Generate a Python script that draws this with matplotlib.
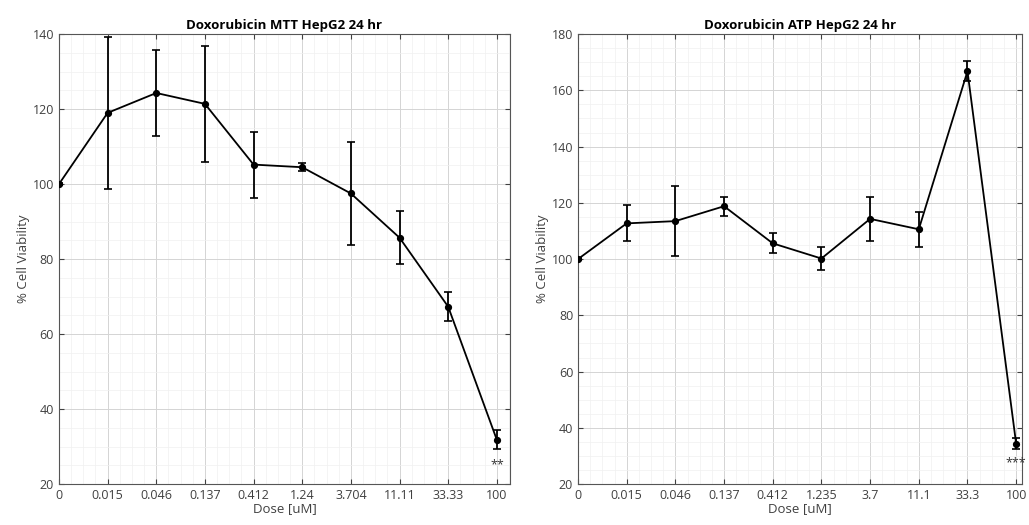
import numpy as np
import matplotlib
matplotlib.use("Agg")
import matplotlib.pyplot as plt
from matplotlib.ticker import MultipleLocator

plt.rcParams['font.family'] = ['Open Sans', 'DejaVu Sans']

# MTT assay
mtt_doses = ["0", "0.015", "0.046", "0.137", "0.412", "1.24", "3.704", "11.11", "33.33", "100"]
mtt_mean = [100, 119, 124.3, 121.4, 105.2, 104.5, 97.5, 85.7, 67.3, 31.8]
mtt_err = [0.3, 20.3, 11.5, 15.5, 8.8, 1.0, 13.8, 7.0, 3.8, 2.5]
mtt_sig = "**"

# ATP assay
atp_doses = ["0", "0.015", "0.046", "0.137", "0.412", "1.235", "3.7", "11.1", "33.3", "100"]
atp_mean = [100, 112.7, 113.5, 118.8, 105.6, 100.2, 114.3, 110.6, 166.8, 34.3]
atp_err = [0.3, 6.4, 12.4, 3.4, 3.6, 4.0, 7.7, 6.3, 3.6, 2.0]
atp_sig = "***"

fig = plt.figure(figsize=(10.29, 5.25), dpi=100)
ax1 = fig.add_axes([0.0573, 0.078, 0.4383, 0.857])
ax2 = fig.add_axes([0.5617, 0.078, 0.4315, 0.857])

def panel(ax, doses, mean, err, sig, title, ylim, xmax):
    x = np.arange(len(doses))
    ax.errorbar(x, mean, yerr=err, color="black", lw=1.3, marker="o", ms=4.2,
                capsize=3, elinewidth=1.3, capthick=1.2, zorder=3)
    ax.text(x[-1], mean[-1] - err[-1] - 2.5, sig, ha="center", va="top",
            fontsize=9, color="#333333")
    ax.set_xlim(0, xmax)
    ax.set_ylim(*ylim)
    ax.set_xticks(x)
    ax.set_xticklabels(doses)
    ax.yaxis.set_major_locator(MultipleLocator(20))
    ax.yaxis.set_minor_locator(MultipleLocator(5))
    ax.xaxis.set_minor_locator(MultipleLocator(0.25))
    ax.grid(True, which="major", color="#d4d4d4", lw=0.7)
    ax.grid(True, which="minor", color="#f0f0f0", lw=0.5)
    ax.set_axisbelow(True)
    ax.tick_params(which="both", direction="in", labelsize=9, colors="#404040",
                   top=True, right=True)
    ax.tick_params(which="minor", length=0)
    for s in ax.spines.values():
        s.set_color("#555555")
        s.set_linewidth(0.8)
    ax.set_title(title, fontsize=9.5, fontweight="bold", pad=4)
    ax.set_xlabel("Dose [uM]", fontsize=9.5, color="#404040", labelpad=0)
    ax.set_ylabel("% Cell Viability", fontsize=9.5, color="#404040", labelpad=2)

panel(ax1, mtt_doses, mtt_mean, mtt_err, mtt_sig, "Doxorubicin MTT HepG2 24 hr", (20, 140), 9.27)
panel(ax2, atp_doses, atp_mean, atp_err, atp_sig, "Doxorubicin ATP HepG2 24 hr", (20, 180), 9.12)

fig.savefig("out.png", dpi=100)
